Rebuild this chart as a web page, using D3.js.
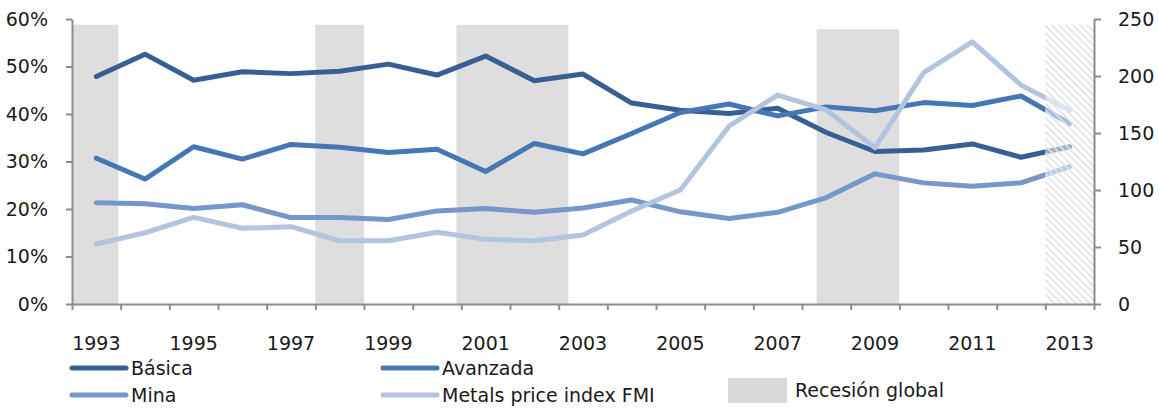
<!DOCTYPE html>
<html>
<head>
<meta charset="utf-8">
<script src="https://cdn.jsdelivr.net/npm/d3@7"></script>
<style>
  body { margin: 0; background: #fff; }
  text { font-family: "DejaVu Sans", sans-serif; fill: #1a1a1a; }
</style>
</head>
<body>
<div id="chart"></div>
<script>
// data
const years = d3.range(1993, 2014);
const basica    = [47.9, 52.6, 47.1, 48.9, 48.5, 49.0, 50.5, 48.2, 52.2, 47.0, 48.4, 42.3, 40.8, 40.1, 41.2, 36.1, 32.1, 32.4, 33.7, 30.9, 33.1];
const avanzada  = [30.7, 26.3, 33.1, 30.5, 33.6, 33.0, 31.9, 32.6, 27.9, 33.8, 31.6, 35.9, 40.3, 42.1, 39.6, 41.5, 40.7, 42.4, 41.8, 43.8, 38.0];
const mina      = [21.3, 21.1, 20.1, 20.9, 18.2, 18.2, 17.8, 19.6, 20.1, 19.3, 20.2, 21.9, 19.4, 18.0, 19.3, 22.4, 27.4, 25.5, 24.8, 25.5, 28.9];
const metals    = [52.6, 62.5, 76.0, 66.4, 67.8, 55.5, 55.5, 62.9, 56.7, 55.5, 60.5, 81.6, 100.0, 156.0, 183.3, 170.2, 137.1, 202.9, 230.0, 192.0, 170.0];

// recession periods (year units, band edges) and their height on the right axis
const recStart  = [1992.5, 1997.5, 2000.4, 2007.8];
const recEnd    = [1993.45, 1998.5, 2002.7, 2009.5];
const recHeight = [245, 245, 245, 241];
// forecast (hatched) period
const hatchStart = 2012.5, hatchEnd = 2013.5, hatchHeight = 245;

const leftTicks  = [0, 10, 20, 30, 40, 50, 60];
const rightTicks = [0, 50, 100, 150, 200, 250];
const yearLabels = [1993, 1995, 1997, 1999, 2001, 2003, 2005, 2007, 2009, 2011, 2013];

const seriesNames  = ['Básica', 'Avanzada', 'Mina', 'Metals price index FMI'];
const seriesColors = ['#385f93', '#4676b3', '#7597c9', '#b3c4df'];

const width = 1159, height = 409;
const margin = {top: 19, bottom: 105, left: 72, right: 65};

const svg = d3.select('#chart').append('svg')
  .attr('width', width)
  .attr('height', height);

const x = d3.scaleLinear().domain([1992.5, 2013.5]).range([margin.left, width - margin.right]);
const yL = d3.scaleLinear().domain([0, 60]).range([height - margin.bottom, margin.top]);
const yR = d3.scaleLinear().domain([0, 250]).range([height - margin.bottom, margin.top]);

// pattern for the hatched area
const defs = svg.append('defs');
const pat = defs.append('pattern')
  .attr('id', 'hatch')
  .attr('patternUnits', 'userSpaceOnUse')
  .attr('width', 5).attr('height', 5)
  .attr('patternTransform', 'rotate(-45)');
pat.append('rect').attr('width', 5).attr('height', 5).attr('fill', '#fff').attr('fill-opacity', 0.5);
pat.append('rect').attr('width', 2).attr('height', 5).attr('fill', '#e2e2e2').attr('fill-opacity', 0.85);

// recession bands
svg.append('g').selectAll('rect')
  .data(recStart)
  .enter().append('rect')
    .attr('x', d => x(d))
    .attr('width', (d, i) => x(recEnd[i]) - x(d))
    .attr('y', (d, i) => yR(recHeight[i]))
    .attr('height', (d, i) => yR(0) - yR(recHeight[i]))
    .attr('fill', '#dedede');

// lines
const allSeries = [
  {vals: basica, y: yL},
  {vals: avanzada, y: yL},
  {vals: mina, y: yL},
  {vals: metals, y: yR}
];
allSeries.forEach((s, k) => {
  const line = d3.line().x((d, i) => x(years[i])).y(d => s.y(d));
  svg.append('path')
    .datum(s.vals)
    .attr('d', line)
    .attr('fill', 'none')
    .attr('stroke', seriesColors[k])
    .attr('stroke-width', 5)
    .attr('stroke-linejoin', 'round')
    .attr('stroke-linecap', 'round');
});

// hatched forecast area over the lines
svg.append('rect')
  .attr('x', x(hatchStart))
  .attr('width', x(hatchEnd) - x(hatchStart))
  .attr('y', yR(hatchHeight))
  .attr('height', yR(0) - yR(hatchHeight))
  .attr('fill', 'url(#hatch)');

// axes
function styleAxis(g) {
  g.selectAll('.domain').attr('stroke', '#8c8c8c').attr('stroke-width', 2);
  g.selectAll('.tick line').attr('stroke', '#8c8c8c').attr('stroke-width', 2);
  g.selectAll('text').style('font-size', '19px').attr('fill', '#1a1a1a');
}

svg.append('g')
  .attr('transform', `translate(${margin.left},0)`)
  .call(d3.axisLeft(yL).tickValues(leftTicks).tickSize(6).tickPadding(18).tickSizeOuter(0).tickFormat(d => d + '%'))
  .call(styleAxis);

svg.append('g')
  .attr('transform', `translate(${width - margin.right},0)`)
  .call(d3.axisRight(yR).tickValues(rightTicks).tickSize(7).tickPadding(17).tickSizeOuter(0))
  .call(styleAxis);

svg.append('g')
  .attr('transform', `translate(0,${height - margin.bottom})`)
  .call(d3.axisBottom(x).tickValues(d3.range(1992.5, 2014, 1)).tickSize(6).tickSizeOuter(0).tickFormat(''))
  .call(styleAxis);

svg.append('g').selectAll('text')
  .data(yearLabels)
  .enter().append('text')
    .attr('x', d => x(d))
    .attr('y', 350)
    .attr('text-anchor', 'middle')
    .style('font-size', '19px')
    .text(d => d);

// legend
const legendPos = [[72, 368], [383, 368], [72, 395], [383, 395]];
const legend = svg.append('g');
seriesNames.forEach((n, i) => {
  const p = legendPos[i];
  legend.append('line')
    .attr('x1', p[0]).attr('x2', p[0] + 54)
    .attr('y1', p[1]).attr('y2', p[1])
    .attr('stroke', seriesColors[i])
    .attr('stroke-width', 5)
    .attr('stroke-linecap', 'round');
  legend.append('text')
    .attr('x', p[0] + 59)
    .attr('y', p[1])
    .attr('dy', '0.35em')
    .style('font-size', '19px')
    .text(n);
});
legend.append('rect')
  .attr('x', 728).attr('y', 378)
  .attr('width', 59).attr('height', 25)
  .attr('fill', '#d9d9d9');
legend.append('text')
  .attr('x', 795).attr('y', 390)
  .attr('dy', '0.35em')
  .style('font-size', '19px')
  .text('Recesión global');
</script>
</body>
</html>
